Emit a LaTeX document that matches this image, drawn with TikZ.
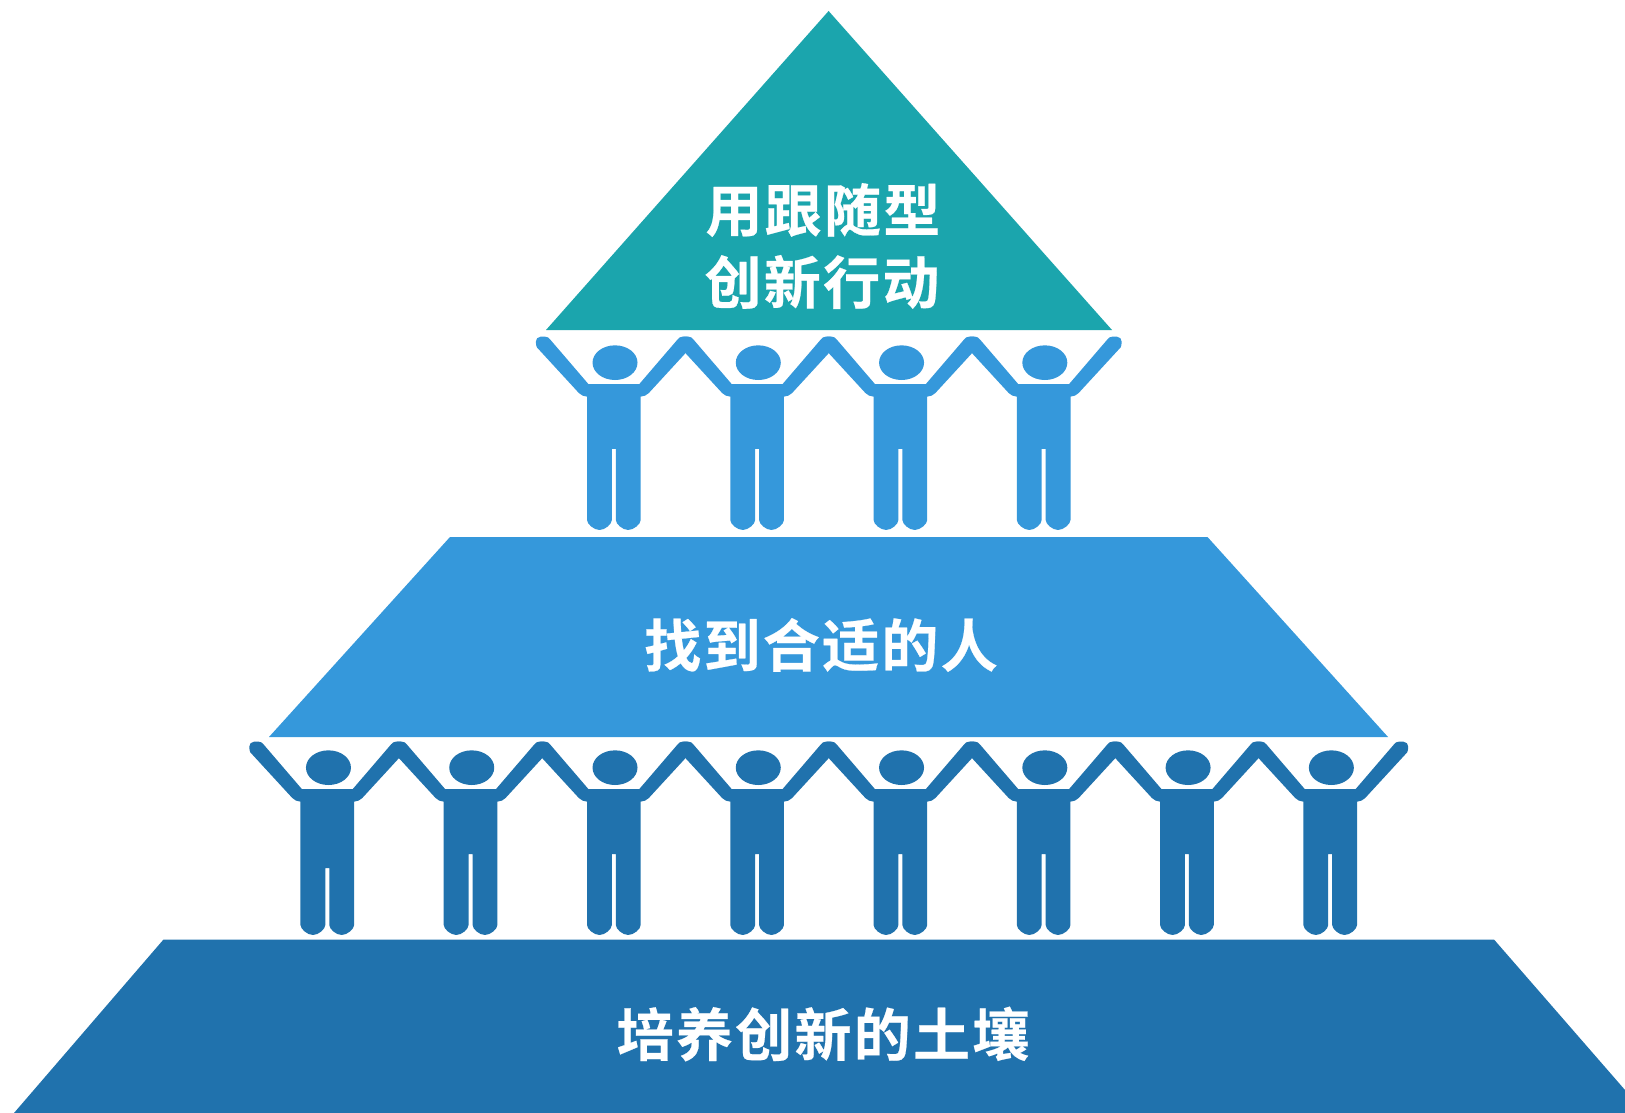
\documentclass[tikz,border=0pt]{standalone}
\usepackage{fontspec}
\newfontfamily\cjkbold[LetterSpace=4,FakeBold=0.4]{Noto Sans CJK SC Bold}
\definecolor{tealtop}{HTML}{1BA5AD}
\definecolor{bluemid}{HTML}{3598DB}
\definecolor{bluelow}{HTML}{2072AD}
\tikzset{
  label text/.style={text=white,font=\cjkbold\fontsize{57}{57}\selectfont,inner sep=0pt,anchor=center},
}
% #1 body-centre x, #2 shoulder y, #3 colour, #4 leg-gap top (in third-pixels below the shoulder)
\newcommand{\personfig}[4]{%
  \begin{scope}[shift={(#1,#2)},x=0.3333pt,y=-0.3333pt]
    \fill[#3] (3.5,-64) ellipse [x radius=67.5,y radius=52];
    \fill[#3] (-80.5,0) -- (80.5,0) -- (80.5,408)
      .. controls (80.5,420) and (60,438) .. (43,438)
      .. controls (26,438) and (6,420) .. (6,408)
      -- (6,#4) -- (-6,#4) -- (-6,408)
      .. controls (-6,420) and (-26,438) .. (-43,438)
      .. controls (-60,438) and (-80.5,420) .. (-80.5,408) -- cycle;
    \foreach \side in {1,-1}{
      \fill[#3,xscale=\side] (-76.5,0) -- (-191.5,-134)
        .. controls (-195,-139) and (-200,-142) .. (-206,-142)
        -- (-220,-142)
        .. controls (-229,-142) and (-234,-134) .. (-234,-127)
        .. controls (-234,-120) and (-233,-113) .. (-231,-110)
        -- (-105,27) .. controls (-99,33) and (-90,38) .. (-80.5,38) -- (-70,38) -- (-70,0) -- cycle;
    }
  \end{scope}}
\begin{document}
\begin{tikzpicture}[x=1pt,y=-1pt]
\useasboundingbox (0,0) rectangle (1625,1113);
\fill[white] (0,0) rectangle (1625,1113);
\fill[tealtop] (828.6,11) -- (1112,330) -- (546,330) -- cycle;
\fill[bluemid] (450,537) -- (1207.5,537) -- (1388,737) -- (269,737) -- cycle;
\fill[bluelow] (163.5,939.5) -- (1494,939.5) -- (1625,1090) -- (1625,1113) -- (14,1113) -- cycle;
\foreach \i in {0,...,3}{
  \pgfmathsetmacro{\px}{613.85+143.27*\i}
  \personfig{\px}{384}{bluemid}{195}
}
\personfig{327.3}{789}{bluelow}{237}
\foreach \i in {1,...,7}{
  \pgfmathsetmacro{\px}{327.3+143.27*\i}
  \personfig{\px}{789}{bluelow}{195}
}
\node[label text] (topa) at (823,210) {用跟随型};
\node[label text] (topb) at (822,282) {创新行动};
\node[label text] (mid) at (821,645) {找到合适的人};
\node[label text] (low) at (823,1034) {培养创新的土壤};
\end{tikzpicture}
\end{document}
